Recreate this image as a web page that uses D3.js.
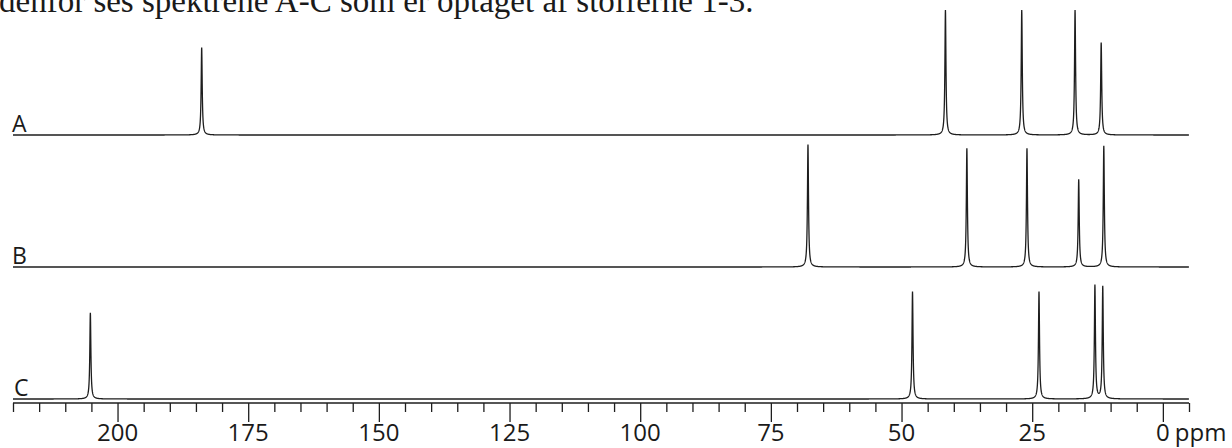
<!DOCTYPE html>
<html>
<head>
<meta charset="utf-8">
<script src="https://cdn.jsdelivr.net/npm/d3@7"></script>
<style>
  body { margin: 0; background: #fff; }
  svg { display: block; }
</style>
</head>
<body>
<div id="chart"></div>
<script>
// spectra (ppm) and peak heights (relative, 0-100)
const rows = ["A", "B", "C"];
const shiftsA = [183.9, 41.6, 27.0, 16.8, 11.8];
const heightsA = [70, 100, 100, 100, 74];
const shiftsB = [67.9, 37.5, 26.0, 16.1, 11.3];
const heightsB = [98, 95, 95, 70, 97];
const shiftsC = [205.2, 47.9, 23.7, 13.0, 11.5];
const heightsC = [69, 86, 86, 91, 90];
const tickLabels = [200, 175, 150, 125, 100, 75, 50, 25, 0];
const captionText = "denfor ses spektrene A-C som er optaget af stofferne 1-3.";

const width = 1232;
const height = 448;

const svg = d3.select("#chart")
  .append("svg")
  .attr("width", width)
  .attr("height", height);

// ppm axis runs right to left
const x = d3.scaleLinear().domain([220, -5]).range([13, 1189]);
// baseline of each spectrum
const yRow = d3.scalePoint().domain(rows).range([135, 399]);
// peak height in px
const h = d3.scaleLinear().domain([0, 100]).range([0, 125]);

// caption, top part cut off by the page edge as in the scan
svg.append("text")
  .attr("x", -1)
  .attr("y", 12)
  .attr("font-family", "'Liberation Serif', 'Times New Roman', serif")
  .attr("font-size", 33)
  .attr("fill", "#1a1a1a")
  .text(captionText);

// lorentzian line shape built from the peak list
const gamma = 0.12;
const grid = d3.range(220, -5, -0.02);
function spectrum(shifts, heights) {
  return grid.map((p) => {
    let v = 0;
    shifts.forEach((s, i) => {
      const d = (p - s) / gamma;
      v += heights[i] / (1 + d * d);
    });
    return [p, Math.min(v, 100)];
  });
}

const spectra = [
  { name: "A", pts: spectrum(shiftsA, heightsA) },
  { name: "B", pts: spectrum(shiftsB, heightsB) },
  { name: "C", pts: spectrum(shiftsC, heightsC) },
];

spectra.forEach((sp) => {
  const base = yRow(sp.name);
  const line = d3.line()
    .x((d) => x(d[0]))
    .y((d) => base - h(d[1]));

  svg.append("path")
    .datum(sp.pts)
    .attr("d", line)
    .attr("fill", "none")
    .attr("stroke", "#1e1e1e")
    .attr("stroke-width", 1.3);

  svg.append("text")
    .attr("x", sp.name === "C" ? 14 : 12)
    .attr("y", base - 3)
    .attr("font-family", "'Open Sans', 'DejaVu Sans', sans-serif")
    .attr("font-size", 23)
    .attr("fill", "#1a1a1a")
    .text(sp.name);
});

// ppm axis
const axisY = 403;
const axis = d3.axisBottom(x)
  .tickValues(d3.range(220, -5.1, -5))
  .tickSize(9)
  .tickFormat("");

const gAxis = svg.append("g")
  .attr("transform", `translate(0,${axisY})`)
  .call(axis);

gAxis.select(".domain")
  .attr("stroke", "#1e1e1e")
  .attr("stroke-width", 1.4)
  .attr("d", `M${x(220)},0H${x(-5)}`);

gAxis.selectAll(".tick line")
  .attr("stroke", "#1e1e1e")
  .attr("stroke-width", 1.3)
  .attr("y2", (d) => (Math.abs(d % 25) < 1e-6 ? 19 : 9));

svg.append("g")
  .selectAll("text")
  .data(tickLabels)
  .enter()
  .append("text")
  .attr("x", (d) => x(d))
  .attr("y", 441)
  .attr("text-anchor", "middle")
  .attr("font-family", "'Open Sans', 'DejaVu Sans', sans-serif")
  .attr("font-size", 24)
  .attr("fill", "#1a1a1a")
  .text((d) => d);

svg.append("text")
  .attr("x", x(0) + 12)
  .attr("y", 441)
  .attr("font-family", "'Open Sans', 'DejaVu Sans', sans-serif")
  .attr("font-size", 24)
  .attr("fill", "#1a1a1a")
  .text("ppm");
</script>
</body>
</html>
